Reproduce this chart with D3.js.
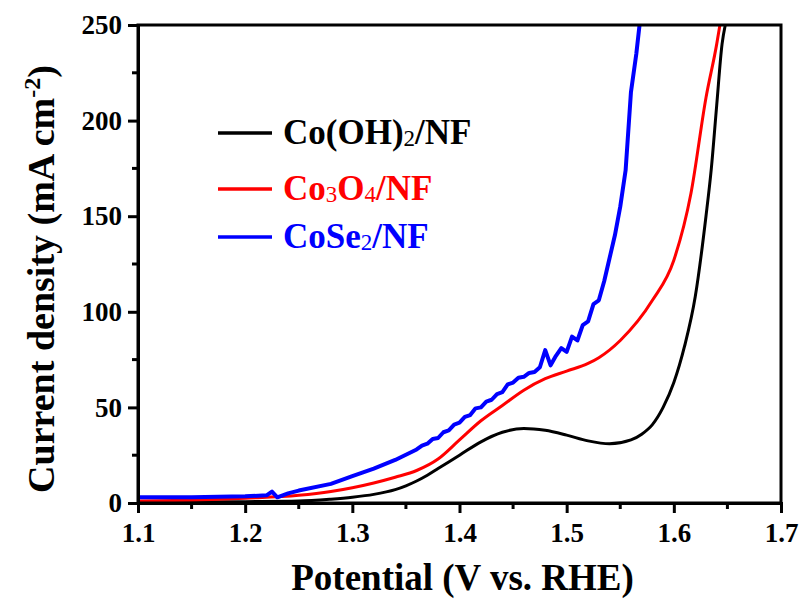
<!DOCTYPE html>
<html>
<head>
<meta charset="utf-8">
<script src="https://cdn.jsdelivr.net/npm/d3@7"></script>
<style>
  html, body { margin: 0; padding: 0; background: #fff; }
  svg text { font-family: "Liberation Serif", "Times New Roman", serif; font-weight: bold; }
</style>
</head>
<body>
<div id="chart"></div>
<script>
// LSV curves: current density vs potential for three Co-based electrodes
const xTicks = [1.1, 1.2, 1.3, 1.4, 1.5, 1.6, 1.7];
const yTicks = [0, 50, 100, 150, 200, 250];

const cohX = [1.10, 1.15, 1.20, 1.25, 1.28, 1.30, 1.32, 1.34, 1.35, 1.36, 1.37, 1.38, 1.40, 1.42, 1.44, 1.46, 1.48, 1.50, 1.52, 1.54, 1.56, 1.57, 1.58, 1.59, 1.60, 1.61, 1.62, 1.63, 1.635, 1.64, 1.645, 1.648];
const cohY = [0.5, 0.5, 0.7, 1, 2, 3, 4.5, 7, 9, 11.5, 14.5, 18, 25, 32, 37, 39, 38, 35.5, 32.5, 31, 33, 36, 41, 50, 63, 82, 108, 150, 175, 208, 240, 250];

const co3o4X = [1.10, 1.15, 1.20, 1.25, 1.28, 1.30, 1.32, 1.34, 1.36, 1.38, 1.40, 1.42, 1.44, 1.46, 1.48, 1.50, 1.52, 1.53, 1.55, 1.58, 1.60, 1.616, 1.63, 1.64, 1.643];
const co3o4Y = [1, 1.5, 2.5, 4, 6, 8, 10.5, 13.5, 17, 23, 33, 43, 51, 59, 65, 69, 73, 76, 85, 106, 127, 162, 212, 240, 250];

const coseX = [1.10, 1.15, 1.20, 1.22, 1.225, 1.23, 1.24, 1.25, 1.28, 1.30, 1.32, 1.34, 1.36, 1.365, 1.37, 1.375, 1.38, 1.385, 1.39, 1.395, 1.40, 1.405, 1.41, 1.415, 1.42, 1.425, 1.43, 1.435, 1.44, 1.445, 1.45, 1.455, 1.46, 1.465, 1.47, 1.475, 1.48, 1.485, 1.49, 1.495, 1.50, 1.505, 1.51, 1.515, 1.52, 1.525, 1.53, 1.535, 1.54, 1.545, 1.55, 1.555, 1.56, 1.565, 1.568];
const coseY = [3, 3, 3.5, 4, 6, 3, 5, 6.5, 10, 14, 18, 22.5, 28, 30, 31, 33.5, 34, 37, 38, 41, 42, 45, 46, 49.5, 50, 53, 54, 57, 58, 62, 63, 65.5, 66, 68, 68.5, 71, 80, 72, 77, 81, 79, 87, 85, 93, 95, 104, 106, 116, 128, 140, 155, 174, 215, 235, 250];

const seriesNames = ['Co(OH)2/NF', 'Co3O4/NF', 'CoSe2/NF'];
const seriesColors = ['#000000', '#ff0000', '#0000ff'];

const W = 799, H = 599;
const margin = {top: 25, right: 18, bottom: 96, left: 138};
const width = W - margin.left - margin.right;
const height = H - margin.top - margin.bottom;

const svg = d3.select('#chart').append('svg').attr('width', W).attr('height', H);
const g = svg.append('g').attr('transform', `translate(${margin.left},${margin.top})`);

const x = d3.scaleLinear().domain([1.1, 1.7]).range([0, width]);
const y = d3.scaleLinear().domain([0, 250]).range([height, 0]);

g.append('clipPath').attr('id', 'clip').append('rect').attr('width', width).attr('height', height);

const series = [
  {name: seriesNames[0], color: seriesColors[0], pts: cohX.map((v, i) => [v, cohY[i]])},
  {name: seriesNames[1], color: seriesColors[1], pts: co3o4X.map((v, i) => [v, co3o4Y[i]])},
  {name: seriesNames[2], color: seriesColors[2], pts: coseX.map((v, i) => [v, coseY[i]])}
];

const smooth = d3.line().x(d => x(d[0])).y(d => y(d[1])).curve(d3.curveMonotoneX);
const rough = d3.line().x(d => x(d[0])).y(d => y(d[1]));
const lines = g.append('g').attr('clip-path', 'url(#clip)');
series.forEach((s, i) => {
  lines.append('path').datum(s.pts)
    .attr('fill', 'none').attr('stroke', s.color)
    .attr('stroke-width', i === 2 ? 4 : 3)
    .attr('stroke-linejoin', 'round')
    .attr('d', i === 2 ? rough : smooth);
});

// frame
g.append('rect').attr('width', width).attr('height', height)
  .attr('fill', 'none').attr('stroke', '#000').attr('stroke-width', 3);

// minor ticks
const xMinor = d3.range(1.15, 1.7, 0.1);
const yMinor = d3.range(25, 250, 50);
g.selectAll('.xminor').data(xMinor).enter().append('line')
  .attr('x1', d => x(d)).attr('x2', d => x(d)).attr('y1', height).attr('y2', height + 6)
  .attr('stroke', '#000').attr('stroke-width', 3);
g.selectAll('.yminor').data(yMinor).enter().append('line')
  .attr('x1', 0).attr('x2', -6).attr('y1', d => y(d)).attr('y2', d => y(d))
  .attr('stroke', '#000').attr('stroke-width', 3);

const xAxis = g.append('g').attr('transform', `translate(0,${height})`)
  .call(d3.axisBottom(x).tickValues(xTicks).tickFormat(d3.format('.1f')).tickSize(10).tickPadding(10));
const yAxis = g.append('g')
  .call(d3.axisLeft(y).tickValues(yTicks).tickSize(10).tickPadding(6));
[xAxis, yAxis].forEach(a => {
  a.select('.domain').attr('stroke-width', 3);
  a.selectAll('.tick line').attr('stroke-width', 3);
  a.selectAll('.tick text').attr('font-size', 27).attr('fill', '#000')
    .style('font-family', '"Liberation Serif", serif').style('font-weight', 'bold');
});

// axis titles
svg.append('text').attr('x', margin.left + width / 2 + 3).attr('y', 590)
  .attr('text-anchor', 'middle').attr('font-size', 37).text('Potential (V vs. RHE)');

const yt = svg.append('text').attr('transform', `translate(54,279) rotate(-90)`)
  .attr('text-anchor', 'middle').attr('font-size', 38);
yt.append('tspan').text('Current density (mA cm');
yt.append('tspan').attr('font-size', 24).attr('dy', -14).text('-2');
yt.append('tspan').attr('dy', 14).text(')');

// legend
const legendRows = [
  {parts: [['Co(OH)', 0], ['2', 1], ['/NF', 0]], y: 133},
  {parts: [['Co', 0], ['3', 1], ['O', 0], ['4', 1], ['/NF', 0]], y: 189},
  {parts: [['CoSe', 0], ['2', 1], ['/NF', 0]], y: 237}
];
legendRows.forEach((r, i) => {
  svg.append('line').attr('x1', 218).attr('x2', 272).attr('y1', r.y).attr('y2', r.y)
    .attr('stroke', seriesColors[i]).attr('stroke-width', 3.5);
  const t = svg.append('text').attr('x', 283).attr('y', r.y + 11).attr('font-size', 35).attr('fill', seriesColors[i]);
  let sub = false;
  r.parts.forEach(p => {
    const ts = t.append('tspan').text(p[0]);
    if (p[1]) { ts.attr('font-size', 23).attr('dy', 2).style('font-weight', 'normal'); sub = true; }
    else if (sub) { ts.attr('dy', -2); sub = false; }
  });
});
</script>
</body>
</html>
